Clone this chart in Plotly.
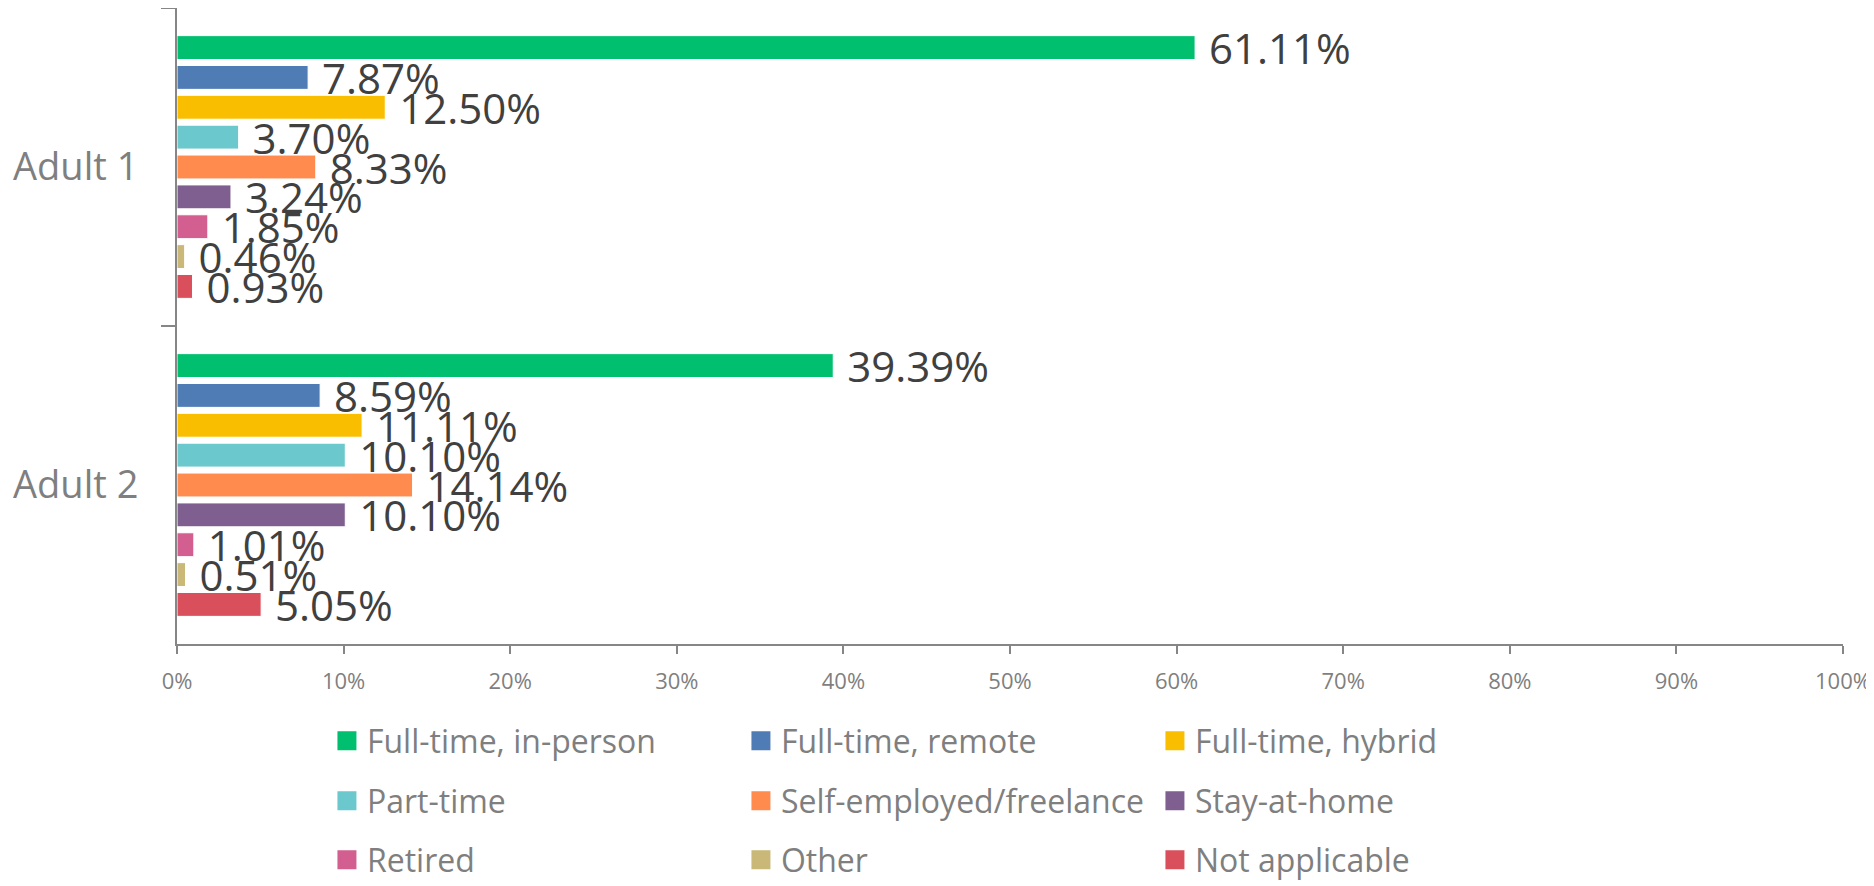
import plotly.graph_objects as go

categories = ["Adult 1", "Adult 2"]
series_names = ["Full-time, in-person", "Full-time, remote", "Full-time, hybrid",
                "Part-time", "Self-employed/freelance", "Stay-at-home",
                "Retired", "Other", "Not applicable"]
full_time_in_person = [61.11, 39.39]
full_time_remote = [7.87, 8.59]
full_time_hybrid = [12.50, 11.11]
part_time = [3.70, 10.10]
self_employed = [8.33, 14.14]
stay_at_home = [3.24, 10.10]
retired = [1.85, 1.01]
other = [0.46, 0.51]
not_applicable = [0.93, 5.05]
series_values = [full_time_in_person, full_time_remote, full_time_hybrid, part_time,
                 self_employed, stay_at_home, retired, other, not_applicable]
colors = ["#00BF6F", "#507CB6", "#F9BE00", "#6BC8CD", "#FF8B4F",
          "#7F5F90", "#D25F90", "#C9B877", "#D94F5B"]
x_ticks = [0, 10, 20, 30, 40, 50, 60, 70, 80, 90, 100]
x_tick_labels = ["0%", "10%", "20%", "30%", "40%", "50%", "60%", "70%", "80%", "90%", "100%"]

legend_ids = ["legend", "legend2", "legend3"]

fig = go.Figure()
for i, (name, vals, col) in enumerate(zip(series_names, series_values, colors)):
    fig.add_trace(go.Bar(
        y=categories, x=vals, name=name, orientation="h",
        marker=dict(color=col, line=dict(color="white", width=1)),
        texttemplate="\u00a0%{x:.2f}%", textposition="outside",
        constraintext="none", cliponaxis=False,
        textfont=dict(family="Open Sans", size=42, color="#404040"),
        showlegend=False,
    ))
# legend entries (square swatches like the reference)
for i, (name, col) in enumerate(zip(series_names, colors)):
    fig.add_trace(go.Scatter(
        x=[None], y=[categories[0]], mode="markers", name=name,
        marker=dict(symbol="square", size=16, color=col, line=dict(color=col, width=3)),
        legend=legend_ids[i // 3], hoverinfo="skip",
    ))

W, H = 1866, 878
ml, mr, mt, mb = 169, 31, 0, 242
legend_common = dict(orientation="h", entrywidth=369, xref="paper", x=0.09,
                     yref="container", yanchor="middle", bgcolor="rgba(0,0,0,0)",
                     itemsizing="trace",
                     font=dict(family="Open Sans", size=32, color="#7F7F7F"))
row_y = [733, 793, 852]

fig.update_layout(
    width=W, height=H,
    margin=dict(l=ml, r=mr, t=mt, b=mb, autoexpand=False),
    paper_bgcolor="white", plot_bgcolor="white",
    barmode="group", bargap=0.155, bargroupgap=0.2,
    showlegend=True,
    legend=dict(**legend_common, y=1 - row_y[0] / H),
    legend2=dict(**legend_common, y=1 - row_y[1] / H),
    legend3=dict(**legend_common, y=1 - row_y[2] / H),
    xaxis=dict(range=[0, 100], tickvals=x_ticks, ticktext=x_tick_labels, showgrid=False,
               zeroline=False, showline=True, linecolor="#868686", linewidth=2,
               ticks="outside", ticklen=8, tickcolor="#868686", tickwidth=2,
               ticklabelstandoff=9,
               tickfont=dict(family="Open Sans", size=22, color="#7F7F7F")),
    yaxis=dict(autorange="reversed", showgrid=False, zeroline=False, showline=True,
               linecolor="#868686", linewidth=2, ticks="outside", ticklen=14,
               tickcolor="#868686", tickwidth=2, tickson="boundaries",
               ticklabelstandoff=29,
               tickfont=dict(family="Open Sans", size=38, color="#7F7F7F")),
)

fig.write_html("out.html")
